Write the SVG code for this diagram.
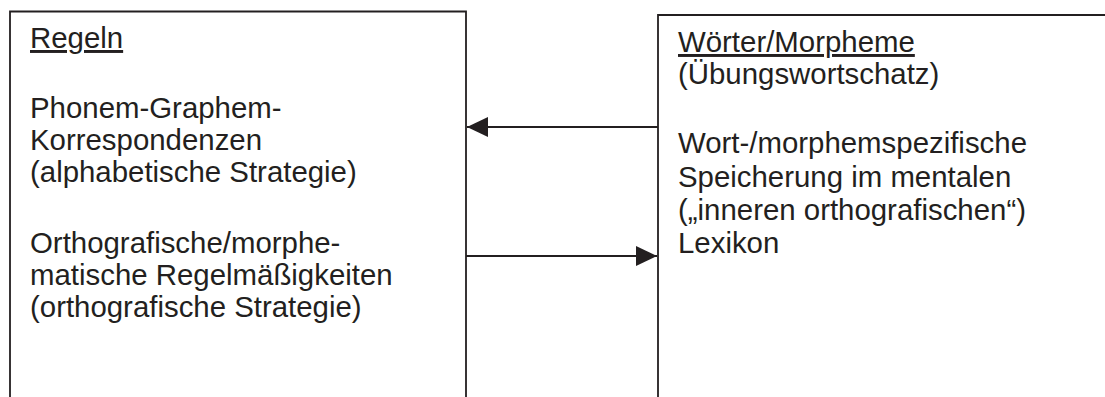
<svg xmlns="http://www.w3.org/2000/svg" width="1105" height="397" viewBox="0 0 1105 397">
<style>
.box{fill:none;stroke:#231f20;stroke-width:1.8}
.t{font-family:"Liberation Sans",Arial,sans-serif;font-size:29.4px;fill:#231f20}
.u{text-decoration:underline}
.c{stroke:#231f20;stroke-width:1.8;fill:none}
</style>
<defs>
<marker id="ah" markerUnits="userSpaceOnUse" markerWidth="22" markerHeight="22" viewBox="0 0 22 22" refX="21" refY="11" orient="auto">
<path d="M0,1 L21,11 L0,21 Z" fill="#231f20"/>
</marker>
</defs>
<rect width="1105" height="397" fill="#ffffff"/>
<g id="regeln">
<path class="box" d="M10,397 V11.5 H466 V397"/>
<text class="t" x="30" y="48"><tspan class="u">Regeln</tspan></text>
<text class="t" x="30" y="118">Phonem-Graphem-</text>
<text class="t" x="30" y="150">Korrespondenzen</text>
<text class="t" x="30" y="182">(alphabetische Strategie)</text>
<text class="t" x="30" y="253">Orthografische/morphe-</text>
<text class="t" x="30" y="285">matische Regelmäßigkeiten</text>
<text class="t" x="30" y="317">(orthografische Strategie)</text>
</g>
<g id="woerter">
<path class="box" d="M658,397 V15 H1106"/>
<text class="t" x="678" y="52"><tspan class="u">Wörter/Morpheme</tspan></text>
<text class="t" x="678" y="84">(Übungswortschatz)</text>
<text class="t" x="678" y="153">Wort-/morphemspezifische</text>
<text class="t" x="678" y="187">Speicherung im mentalen</text>
<text class="t" x="678" y="220">(„inneren orthografischen“)</text>
<text class="t" x="678" y="253">Lexikon</text>
</g>
<g id="connectors">
<line class="c" x1="658" y1="127" x2="467" y2="127" marker-end="url(#ah)"/>
<line class="c" x1="466" y1="256" x2="657" y2="256" marker-end="url(#ah)"/>
</g>
</svg>
